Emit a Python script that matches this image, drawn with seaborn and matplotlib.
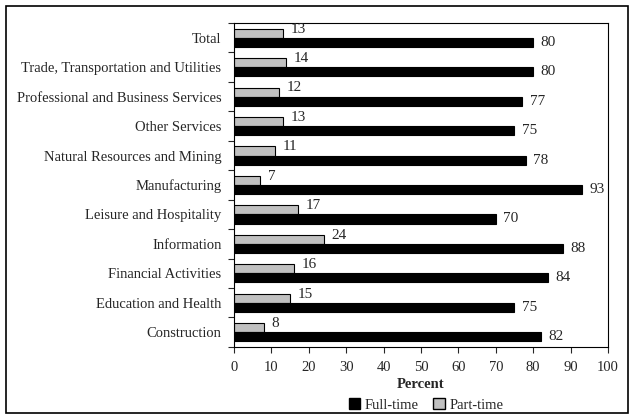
import pandas as pd
import matplotlib.pyplot as plt
import matplotlib.patches as mpatches
import seaborn as sns

# Data (top to bottom)
industries = ['Total', 'Trade, Transportation and Utilities', 'Professional and Business Services',
              'Other Services', 'Natural Resources and Mining', 'Manufacturing',
              'Leisure and Hospitality', 'Information', 'Financial Activities',
              'Education and Health', 'Construction']
full_time = [80, 80, 77, 75, 78, 93, 70, 88, 84, 75, 82]
part_time = [13, 14, 12, 13, 11, 7, 17, 24, 16, 15, 8]

df = pd.DataFrame({'Industry': industries, 'Full-time': full_time, 'Part-time': part_time})
data = df.melt(id_vars='Industry', var_name='Type', value_name='Percent')

sns.set_style('white')
plt.rcParams['font.family'] = ['Liberation Serif', 'DejaVu Serif']

fig = plt.figure(figsize=(6.34, 4.19), dpi=100)
ax = fig.add_axes([0.369, 0.172, 0.59, 0.773])

colors = {'Part-time': '#c0c0c0', 'Full-time': '#000000'}
sns.barplot(data=data, y='Industry', x='Percent', hue='Type', order=industries,
            hue_order=['Part-time', 'Full-time'], palette=colors, width=0.62,
            edgecolor='black', linewidth=0.8, orient='h', ax=ax, legend=False)

# value labels
for cont, dy in zip(ax.containers, [3, 0]):
    for bar in cont:
        w = bar.get_width()
        ax.annotate(f'{w:.0f}', (w, bar.get_y() + bar.get_height() / 2),
                    xytext=(5.5, dy), textcoords='offset points',
                    ha='left', va='center', fontsize=11)

ax.set_xlim(0, 100)
ax.set_ylim(len(industries) - 0.5, -0.5)
ax.set_xticks(range(0, 101, 10))
ax.set_yticks(range(len(industries)))
ax.set_yticks([i - 0.5 for i in range(len(industries) + 1)], minor=True)
ax.tick_params(axis='y', which='major', length=0, labelsize=10.5, pad=9)
ax.tick_params(axis='y', which='minor', length=4, width=0.8, direction='out', left=True)
ax.tick_params(axis='x', length=4, width=0.8, direction='out', bottom=True, labelsize=10.5, pad=6)
ax.set_ylabel('')
ax.set_xlabel('Percent', fontsize=10.5, fontweight='bold', labelpad=3)
for s in ax.spines.values():
    s.set_color('black')
    s.set_linewidth(0.8)

handles = [mpatches.Patch(facecolor='black', edgecolor='black', label='Full-time'),
           mpatches.Patch(facecolor='#c0c0c0', edgecolor='black', label='Part-time')]
fig.legend(handles=handles, loc='lower center', bbox_to_anchor=(0.672, -0.014), ncol=2,
           frameon=False, fontsize=10.5, handlelength=0.8, handleheight=0.8,
           handletextpad=0.3, columnspacing=1.0)

# outer frame
fig.patches.append(mpatches.Rectangle((0.009, 0.014), 0.982, 0.972, transform=fig.transFigure,
                                      fill=False, edgecolor='black', linewidth=1.2))

plt.savefig('out.png', dpi=100)
